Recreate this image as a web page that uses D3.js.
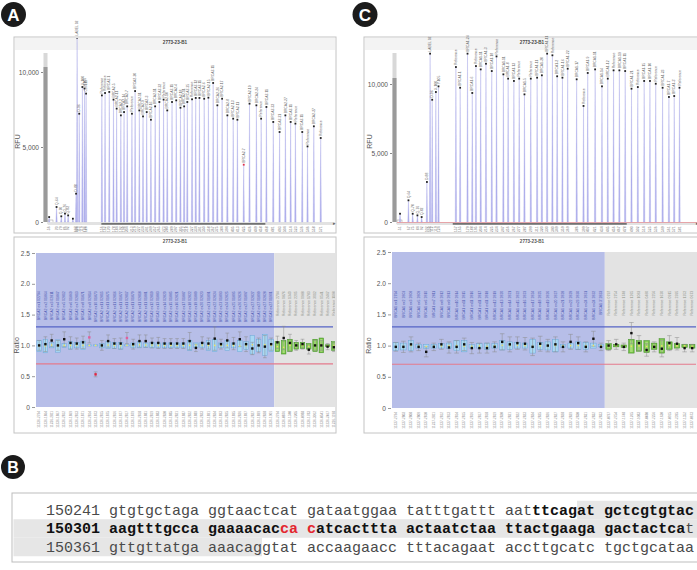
<!DOCTYPE html>
<html><head><meta charset="utf-8">
<script src="https://cdn.jsdelivr.net/npm/d3@7"></script>
<style>body{margin:0;background:#fff}svg{display:block}text{font-family:"Liberation Sans",Arial,sans-serif}</style>
</head><body>
<svg id="fig" width="697" height="570" xmlns="http://www.w3.org/2000/svg"></svg>
<script>
// ---------------- DATA ----------------
const sampleTitle = "2773-23-B1";
const rfuTicks = [0, 5000, 10000];
const ratioTicks = [0, 0.5, 1.0, 1.5, 2.0, 2.5];

// Panel A electropherogram
const earlySizeA = [56,70,79,86,92,101,107,109,113,119,123,126];
const earlyRfuA  = [330,1000,380,560,440,220,1890,12290,7220,9000,8900,8560];
const earlyLabA  = ["","Q-64","Q-70","Q-76","Q-82","","D-88","LABEL 92","D-96","X-100","Y-105","Ctrl-111"];
const mainSizeA = [156,162,170,178,184,192,198,204,213,219,227,234,241,249,257,265,273,280,289,297,305,312,318,327,334,341,350,358,367,375,384,394,405,413,425,436,449,458,468,481,493,504,514,523,536,546,558,571];
const mainRfuA  = [8440,8600,8670,8160,7560,7110,7330,7710,7220,8730,7440,7040,7330,6820,7710,8000,8160,7440,8000,8110,7620,7710,8000,8180,8270,8270,8220,8290,9270,7780,8220,7110,6890,6820,3820,7890,7780,6890,7670,6670,6000,7110,6670,6560,6000,5040,6380,5600];
const mainLabA  = ["Reference","Reference","BRCA2-1","BRCA2-5","BRCA2-11","BRCA2-2","BRCA2-14","BRCA2-7","Reference","BRCA2-20","BRCA2-11","BRCA2-9","BRCA2-3","BRCA2-16","BRCA2-11","BRCA2-22","Reference","BRCA2-10","BRCA2-11","BRCA2-4","BRCA2-18","BRCA2-11","BRCA2-25","Reference","BRCA2-12","BRCA2-11","BRCA2-6","BRCA2-15","BRCA2-11","BRCA2-26","BRCA2-17","BRCA2-8","BRCA2-13","BRCA2-11","BRCA2-7","BRCA2-19","BRCA2-24","Reference","BRCA2-11","BRCA2-23","BRCA2-21","BRCA2-27","BRCA2-11","Reference","BRCA2-11","Reference","BRCA2-27","Reference"];
const lowPeakA = [34];
const scrollA = [155, 466];

// Panel C electropherogram
const earlySizeC = [51,67,75,84,92,102,108,112,119,124];
const earlyRfuC  = [600,1570,600,480,360,2900,12200,8860,9420,9830];
const earlyLabC  = ["","Q-64","Q-70","Q-76","Q-82","D-88","LABEL 92","D-96","X-100","Y-105"];
const mainSizeC = [157,165,179,188,195,204,214,225,234,247,256,267,277,287,299,311,320,330,340,349,359,369,386,399,407,421,434,445,456,467,478,490,502,514,525,536,549,561,571,581];
const mainRfuC  = [11230,9730,12200,9350,11300,11060,11470,10940,12000,10700,10390,10220,10390,9250,10390,10460,10630,12200,12080,10560,10460,11110,10340,8410,10800,11060,9830,10390,10990,10990,10940,9660,9780,10220,10220,10020,9730,9060,9130,9730];
const mainLabC  = ["Reference","BRCA1-1","BRCA1-24","BRCA1-6","Reference","BRCA1-11","BRCA1-3","BRCA1-18","Reference","BRCA1-11","BRCA1-8","BRCA1-13","Reference","BRCA1-5","Reference","BRCA1-11","BRCA1-20","BRCA1-11","Reference","BRCA1-2","BRCA1-16","BRCA1-22","BRCA1-17","Reference","BRCA1-9","BRCA1-11","BRCA1-14","BRCA1-12","Reference","BRCA1-19","BRCA1-11","BRCA1-21","Reference","BRCA1-15","BRCA1-10","Reference","BRCA1-23","BRCA1-7","BRCA1-3'","Reference"];
const scrollC = [151, 481];

// Panel A ratio chart (38 target probes + 10 reference probes)
const probeA = ["BRCA2 ex1 02794","BRCA2 ex2 01864","BRCA2 ex3 02811","BRCA2 ex4 01867","BRCA2 ex5 02812","BRCA2 ex6 01869","BRCA2 ex7 02813","BRCA2 ex8 01871","BRCA2 ex9 02814","BRCA2 ex10 01873","BRCA2 ex11 02815","BRCA2 ex11 01875","BRCA2 ex11 02816","BRCA2 ex11 01877","BRCA2 ex11 02817","BRCA2 ex11 01879","BRCA2 ex11 02818","BRCA2 ex11 01881","BRCA2 ex12 02819","BRCA2 ex13 01883","BRCA2 ex14 02820","BRCA2 ex15 01885","BRCA2 ex16 02821","BRCA2 ex17 01887","BRCA2 ex18 02822","BRCA2 ex19 01889","BRCA2 ex20 02823","BRCA2 ex21 01891","BRCA2 ex22 02824","BRCA2 ex23 01893","BRCA2 ex24 02825","BRCA2 ex25 01895","BRCA2 ex26 02826","BRCA2 ex27 01897","BRCA2 ex27 02827","BRCA2 ex27 01899","BRCA2 ex27 02828","BRCA2 ex27 01901"];
const refA = ["Reference 2794","Reference 0876","Reference 1340","Reference 2205","Reference 0988","Reference 1783","Reference 3012","Reference 0541","Reference 2467","Reference 1198"];
const ratioA = [1.00,1.02,1.08,1.00,1.10,1.04,1.03,1.05,1.13,0.53,1.00,1.07,1.03,1.03,1.12,1.02,1.07,1.07,1.04,1.04,1.03,1.03,1.03,1.03,1.07,0.96,1.04,1.03,1.11,1.02,1.08,1.03,1.10,1.02,0.95,1.00,0.98,1.02,1.05,1.12,1.04,1.00,1.02,0.93,1.00,1.00,0.98,0.97];
const ciA = [0.08,0.12,0.10,0.08,0.12,0.10,0.09,0.10,0.09,0.04,0.08,0.10,0.08,0.09,0.09,0.08,0.10,0.10,0.08,0.09,0.08,0.08,0.08,0.08,0.14,0.06,0.10,0.09,0.19,0.08,0.12,0.10,0.12,0.12,0.10,0.12,0.18,0.10,0.10,0.19,0.14,0.08,0.08,0.07,0.08,0.08,0.05,0.07];
const boxLoA = [0.90,0.88,0.96,0.89,0.97,0.94,0.96,0.93,0.99,0.99,0.96,0.95,0.95,0.94,0.99,0.96,0.96,0.97,0.96,0.96,0.96,0.96,0.96,0.96,0.92,0.97,0.96,0.92,0.90,0.96,0.92,0.96,0.90,0.93,0.86,0.90,0.84,0.90,0.90,0.86,0.90,0.94,0.95,0.94,0.90,0.88,0.98,0.92];
const boxHiA = [1.08,1.10,1.05,1.09,1.03,1.06,1.05,1.07,1.01,1.01,1.03,1.06,1.05,1.05,1.01,1.04,1.06,1.04,1.05,1.04,1.04,1.04,1.04,1.04,1.08,1.04,1.05,1.08,1.10,1.04,1.08,1.04,1.08,1.06,1.16,1.10,1.18,1.10,1.06,1.08,1.10,1.05,1.05,1.03,1.10,1.12,1.01,1.06];
const pinkA = [8, 14];

// Panel C ratio chart (28 target probes + 12 reference probes)
const probeC = ["BRCA1 ex1 2794","BRCA1 ex2 2803","BRCA1 ex3 2808","BRCA1 ex5 2809","BRCA1 ex6 2810","BRCA1 ex7 2811","BRCA1 ex8 2812","BRCA1 ex9 2813","BRCA1 ex10 2814","BRCA1 ex11 2815","BRCA1 ex11 2816","BRCA1 ex11 2817","BRCA1 ex11 2818","BRCA1 ex12 2819","BRCA1 ex13 2820","BRCA1 ex14 2821","BRCA1 ex15 2822","BRCA1 ex16 2823","BRCA1 ex17 2824","BRCA1 ex18 2825","BRCA1 ex19 2826","BRCA1 ex20 2827","BRCA1 ex21 2828","BRCA1 ex22 2829","BRCA1 ex23 2830","BRCA1 ex24 2831","BRCA1 ex24 2832","BRCA1 3' 2833"];
const refC = ["Reference 0797","Reference 2754","Reference 1748","Reference 1265","Reference 1083","Reference 0480","Reference 2256","Reference 1630","Reference 0915","Reference 2395","Reference 1352","Reference 0673"];
const ratioC = [0.98,0.98,1.02,0.98,0.90,0.98,1.02,0.97,0.98,1.02,0.96,0.96,0.96,0.98,1.06,1.02,1.04,1.03,0.98,1.03,1.00,1.02,0.98,1.06,1.04,0.98,1.11,0.98,1.00,1.02,0.98,1.20,1.04,0.93,0.98,0.95,1.04,1.03,0.96,0.96];
const ciC = [0.07,0.09,0.12,0.06,0.08,0.06,0.08,0.09,0.10,0.10,0.09,0.08,0.08,0.08,0.13,0.12,0.10,0.10,0.14,0.12,0.10,0.12,0.08,0.12,0.10,0.08,0.12,0.06,0.08,0.08,0.06,0.17,0.12,0.10,0.08,0.13,0.12,0.10,0.06,0.06];
const boxLoC = [0.92,0.93,0.92,0.96,0.95,0.96,0.96,0.95,0.92,0.90,0.96,0.96,0.94,0.96,0.93,0.94,0.96,0.96,0.88,0.94,0.93,0.90,0.97,0.96,0.94,0.94,0.96,0.98,0.94,0.98,0.97,0.88,0.91,0.89,0.94,0.88,0.94,0.96,0.97,0.96];
const boxHiC = [1.05,1.04,1.08,1.02,1.02,1.02,1.03,1.04,1.08,1.08,1.02,1.03,1.04,1.03,1.08,1.06,1.05,1.04,1.10,1.05,1.06,1.10,1.02,1.04,1.06,1.05,1.04,1.02,1.03,1.02,1.01,1.10,1.08,1.08,1.04,1.11,1.06,1.03,1.02,1.02];
const pinkC = [];

// Panel B sequence (segments: [text, bold, red])
const seqLines = [
  [["150241 gtgtgctaga ggtaactcat gataatggaa tatttgattt aat",0,0],["ttcagat gctcgtgtac",1,0]],
  [["150301 aagtttgcca gaaaacac",1,0],["ca",1,1],[" ",1,0],["c",1,1],["atcacttta actaatctaa ttactgaaga gactactca",1,0],["t",0,0]],
  [["150361 gttgttatga aaacaggtat accaagaacc tttacagaat accttgcatc tgctgcataa",0,0]]
];
// grey highlight, as [line, first char, last char (exclusive)]
const seqShade = [[0,59,80],[1,-4,80],[2,-4,24]];

// ---------------- DRAWING ----------------
const svg = d3.select("#fig");
const defs = svg.append("defs");
let clipN = 0;
function clip(x0,y0,x1,y1){
  const id="clip"+(clipN++);
  defs.append("clipPath").attr("id",id).append("rect").attr("x",x0).attr("y",y0).attr("width",x1-x0).attr("height",y1-y0);
  return "url(#"+id+")";
}

function panelLabel(cx,cy,r,t,fs){
  svg.append("circle").attr("cx",cx).attr("cy",cy).attr("r",r).attr("fill","#1b1b1b");
  svg.append("text").attr("x",cx).attr("y",cy+fs*0.36).attr("text-anchor","middle")
    .attr("font-size",fs).attr("font-weight","bold").attr("fill","#fff").text(t);
}

function electro(c){
  const [bx0,by0,bx1,by1]=c.box;
  const g=svg.append("g");
  g.append("rect").attr("x",bx0).attr("y",by0).attr("width",bx1-bx0).attr("height",by1-by0).attr("fill","#fff").attr("stroke","#c4c4c4").attr("stroke-width",1);
  g.append("rect").attr("x",bx0+1).attr("y",by0+1).attr("width",bx1-bx0-2).attr("height",12).attr("fill","#f3f3f3");
  g.append("text").attr("x",c.titleX).attr("y",by0+6.5).attr("text-anchor","middle").attr("font-size",4.6).attr("font-weight","bold").attr("fill","#444").text(sampleTitle);

  const x=d3.scaleLinear().domain([50,600]).range(c.xr);
  const y=d3.scaleLinear().domain([0,10000]).range(c.yr);
  const base=y(0);

  const ax=g.append("g").attr("transform",`translate(${c.axX},0)`)
    .call(d3.axisLeft(y).tickValues(rfuTicks).tickFormat(d3.format(",")).tickSize(2).tickPadding(2));
  ax.select(".domain").remove();
  ax.selectAll("line").attr("stroke","#888");
  ax.selectAll("text").attr("font-size",6.6).attr("fill","#555").attr("font-family","Liberation Sans, Arial");
  g.append("text").attr("transform",`translate(${c.rfuX},${(by0+base)/2+12}) rotate(-90)`).attr("text-anchor","middle").attr("font-size",7).attr("fill","#555").text("RFU");

  // scrollbar-like gauge
  g.append("rect").attr("x",c.axX+0.5).attr("y",by0+16).attr("width",4).attr("height",base-by0-16).attr("fill","#d8d8d8");
  g.append("rect").attr("x",c.axX+0.5).attr("y",c.gaugeY).attr("width",4).attr("height",base-c.gaugeY).attr("fill","#9a9a9a");
  g.append("rect").attr("x",c.axX+5).attr("y",base-2).attr("width",5).attr("height",4).attr("fill","#fff").attr("stroke","#999").attr("stroke-width",0.5);

  // baseline strip
  g.append("rect").attr("x",c.axX+5).attr("y",base).attr("width",bx1-c.axX-6).attr("height",3).attr("fill","#e2e2e2");
  if(c.pink) g.append("line").attr("x1",c.axX+5).attr("x2",bx1).attr("y1",base+0.5).attr("y2",base+0.5).attr("stroke","#e6a4a8").attr("stroke-width",1.2);
  g.append("rect").attr("x",x(c.scroll[0])).attr("y",base+1.2).attr("width",x(c.scroll[1])-x(c.scroll[0])).attr("height",1.4).attr("fill","#555");
  g.append("text").attr("x",bx1-2).attr("y",base+2.5).attr("font-size",5).attr("fill","#666").attr("text-anchor","middle").text("▸");

  const peaks=[];
  c.eSize.forEach((s,i)=>peaks.push({s,r:c.eRfu[i],lab:c.eLab[i],main:false,i}));
  c.mSize.forEach((s,i)=>peaks.push({s,r:c.mRfu[i],lab:c.mLab[i],main:true,i}));

  const pg=g.append("g").attr("clip-path",clip(bx0+1,by0+1,bx1-1,by1-1));
  pg.selectAll("path.pk").data(peaks).join("path")
    .attr("d",d=>`M${x(d.s)-0.7},${base} L${x(d.s)},${y(d.r)} L${x(d.s)+0.7},${base} Z`)
    .attr("fill","#b4b4ee").attr("stroke","#9c9ce4").attr("stroke-width",0.3);
  pg.selectAll("rect.dot").data(peaks.filter(d=>d.r>200)).join("rect")
    .attr("x",d=>x(d.s)-0.9).attr("y",d=>y(d.r)-0.9).attr("width",1.8).attr("height",1.8)
    .attr("fill",d=>d.main&&c.low.includes(d.i)?"#e0304a":"#222");
  g.selectAll("text.lab").data(peaks.filter(d=>d.lab)).join("text")
    .attr("transform",d=>`translate(${x(d.s)+1.2},${y(d.r)-2}) rotate(-90)`)
    .attr("font-size",3.4).attr("fill","#666").text(d=>d.lab);
  g.selectAll("text.sz").data(peaks.filter(d=>d.main||d.r>300)).join("text")
    .attr("transform",d=>`translate(${x(d.s)+1.1},${base+4.5}) rotate(-90)`)
    .attr("text-anchor","end").attr("font-size",3.3).attr("fill","#777").text(d=>d.s);
}

function ratioChart(c){
  const [bx0,by0,bx1,by1]=c.box;
  const n=c.ratio.length, nT=c.probes.length;
  const names=c.probes.concat(c.refs);
  const g=svg.append("g");
  g.append("rect").attr("x",bx0).attr("y",by0).attr("width",bx1-bx0).attr("height",by1-by0).attr("fill","#fff").attr("stroke","#c4c4c4");
  g.append("text").attr("x",c.titleX).attr("y",by0+5.5).attr("text-anchor","middle").attr("font-size",4.6).attr("font-weight","bold").attr("fill","#555").text(sampleTitle);
  const x=d3.scaleBand().domain(d3.range(n)).range(c.xr);
  const y=d3.scaleLinear().domain([0,2.5]).range(c.yr);
  const bw=x.bandwidth();
  const cg=g.append("g").attr("clip-path",clip(bx0+1,by0+1,bx1-1,by1-1));
  cg.append("rect").attr("x",c.xr[0]).attr("y",y(2.5)).attr("width",x(nT)-c.xr[0]).attr("height",y(0)-y(2.5)).attr("fill","#b7bee8");
  cg.append("rect").attr("x",x(nT)).attr("y",y(2.5)).attr("width",bx1-x(nT)).attr("height",y(0)-y(2.5)).attr("fill","#e3e3e3");

  const ax=g.append("g").attr("transform",`translate(${c.xr[0]-1},0)`)
    .call(d3.axisLeft(y).tickValues(ratioTicks).tickFormat(d=>d===0?"0":d3.format(".1f")(d)).tickSize(3).tickPadding(2));
  ax.select(".domain").remove();
  ax.selectAll("line").attr("stroke","#999");
  ax.selectAll("text").attr("font-size",6.6).attr("fill","#555").attr("font-family","Liberation Sans, Arial");
  g.append("text").attr("transform",`translate(${c.ratioX},${y(1.0)}) rotate(-90)`).attr("text-anchor","middle").attr("font-size",7).attr("fill","#555").text("Ratio");

  cg.selectAll("text.pn").data(names).join("text")
    .attr("transform",(d,i)=>`translate(${x(i)+bw/2+1.2},${y(1.88)}) rotate(-90)`)
    .attr("text-anchor","end").attr("font-size",3.5)
    .attr("fill",(d,i)=>i<nT?"#4a56b0":"#8a8f86").text(d=>d);
  g.selectAll("text.xl").data(names).join("text")
    .attr("transform",(d,i)=>`translate(${x(i)+bw/2+1.2},${y(0)+4}) rotate(-90)`)
    .attr("text-anchor","end").attr("font-size",3.2).attr("fill","#8a8a8a")
    .text((d,i)=>c.sampleId+"-"+d.slice(-4));

  cg.append("line").attr("x1",c.xr[0]).attr("x2",bx1-3).attr("y1",y(1.3)).attr("y2",y(1.3)).attr("stroke","#5563c6").attr("stroke-width",1.3);
  cg.append("line").attr("x1",c.xr[0]).attr("x2",bx1-3).attr("y1",y(0.7)).attr("y2",y(0.7)).attr("stroke","#e47a8c").attr("stroke-width",1.1);

  const idx=d3.range(n);
  const bwBox=bw*0.72;
  cg.selectAll("rect.bx").data(idx).join("rect")
    .attr("x",i=>x(i)+(bw-bwBox)/2).attr("width",bwBox)
    .attr("y",i=>y(c.boxHi[i])).attr("height",i=>Math.max(0.6,y(c.boxLo[i])-y(c.boxHi[i])))
    .attr("fill",i=>i<nT?"#a9d8f3":"#74c244").attr("stroke",i=>i<nT?"#6aa7d8":"#3f8d24").attr("stroke-width",0.5);
  cg.selectAll("rect.bxi").data(idx.filter(i=>i>=nT)).join("rect")
    .attr("x",i=>x(i)+bw*0.32).attr("width",bw*0.36)
    .attr("y",i=>y(c.boxHi[i])+1).attr("height",i=>Math.max(0.3,y(c.boxLo[i])-y(c.boxHi[i])-2))
    .attr("fill","#a6dc78");
  const eb=cg.append("g").attr("stroke","#8a8a8a").attr("stroke-width",0.5);
  idx.forEach(i=>{
    const cx=x(i)+bw/2, y1=y(c.ratio[i]+c.ci[i]), y2=y(c.ratio[i]-c.ci[i]);
    eb.append("line").attr("x1",cx).attr("x2",cx).attr("y1",y1).attr("y2",y2);
    eb.append("line").attr("x1",cx-bw*0.3).attr("x2",cx+bw*0.3).attr("y1",y1).attr("y2",y1);
    eb.append("line").attr("x1",cx-bw*0.3).attr("x2",cx+bw*0.3).attr("y1",y2).attr("y2",y2);
  });
  cg.selectAll("circle.md").data(idx).join("circle")
    .attr("cx",i=>x(i)+bw/2).attr("cy",i=>y((c.boxLo[i]+c.boxHi[i])/2)).attr("r",0.8).attr("fill","#f2e45a");
  cg.selectAll("rect.sd").data(idx).join("rect")
    .attr("x",i=>x(i)+bw/2-1.2).attr("y",i=>y(c.ratio[i])-1.2).attr("width",2.4).attr("height",2.4)
    .attr("fill",i=>c.ratio[i]<0.7?"#e2233f":(c.pink.includes(i)?"#e0609c":"#111"));
}

// ---- Panel A ----
panelLabel(13.5,14.5,12.5,"A",17);
electro({box:[14,37,336,233],titleX:175,xr:[46,336],yr:[222,72],axX:43,rfuX:20,gaugeY:67,
  eSize:earlySizeA,eRfu:earlyRfuA,eLab:earlyLabA,mSize:mainSizeA,mRfu:mainRfuA,mLab:mainLabA,low:lowPeakA,scroll:scrollA,pink:false});
ratioChart({box:[14,237,336,433],titleX:175,xr:[36,337],yr:[407,253],ratioX:19,sampleId:"11236",
  probes:probeA,refs:refA,ratio:ratioA,ci:ciA,boxLo:boxLoA,boxHi:boxHiA,pink:pinkA});

// ---- Panel C ----
panelLabel(365,14.5,12.5,"C",17);
electro({box:[364,37,699,233],titleX:532,xr:[399.5,689.5],yr:[222,84],axX:392,rfuX:372,gaugeY:78,
  eSize:earlySizeC,eRfu:earlyRfuC,eLab:earlyLabC,mSize:mainSizeC,mRfu:mainRfuC,mLab:mainLabC,low:[],scroll:scrollC,pink:true});
ratioChart({box:[364,237,699,433],titleX:532,xr:[392,696],yr:[408,252],ratioX:371,sampleId:"11237",
  probes:probeC,refs:refC,ratio:ratioC,ci:ciC,boxLo:boxLoC,boxHi:boxHiC,pink:pinkC});

// ---- Panel B ----
panelLabel(13,467,12,"B",16);
const bBox=[12,493,699,562];
svg.append("rect").attr("x",bBox[0]).attr("y",bBox[1]).attr("width",bBox[2]-bBox[0]).attr("height",bBox[3]-bBox[1]).attr("fill","#fff").attr("stroke","#bdbdbd");
const cw=9.0, tx0=46, lineY=[510,528.5,547], lh=18.5;
seqShade.forEach(([li,a,b])=>{
  svg.append("rect").attr("x",Math.max(bBox[0]+1.5,tx0+a*cw)).attr("y",lineY[li]-lh/2).attr("width",Math.min(bBox[2],tx0+b*cw)-Math.max(bBox[0]+1.5,tx0+a*cw)).attr("height",lh).attr("fill","#e6e6e6");
});
seqLines.forEach((segs,li)=>{
  const t=svg.append("text").attr("x",tx0).attr("y",lineY[li]+4.6).attr("font-size",15)
    .style("font-family","'Liberation Mono','Courier New',monospace").style("white-space","pre").attr("xml:space","preserve");
  segs.forEach(([s,b,r])=>{
    t.append("tspan").text(s).attr("font-weight",b?"bold":"normal").attr("fill",r?"#e3262f":(b?"#111":"#4a4a4a"));
  });
});
</script>
</body></html>
